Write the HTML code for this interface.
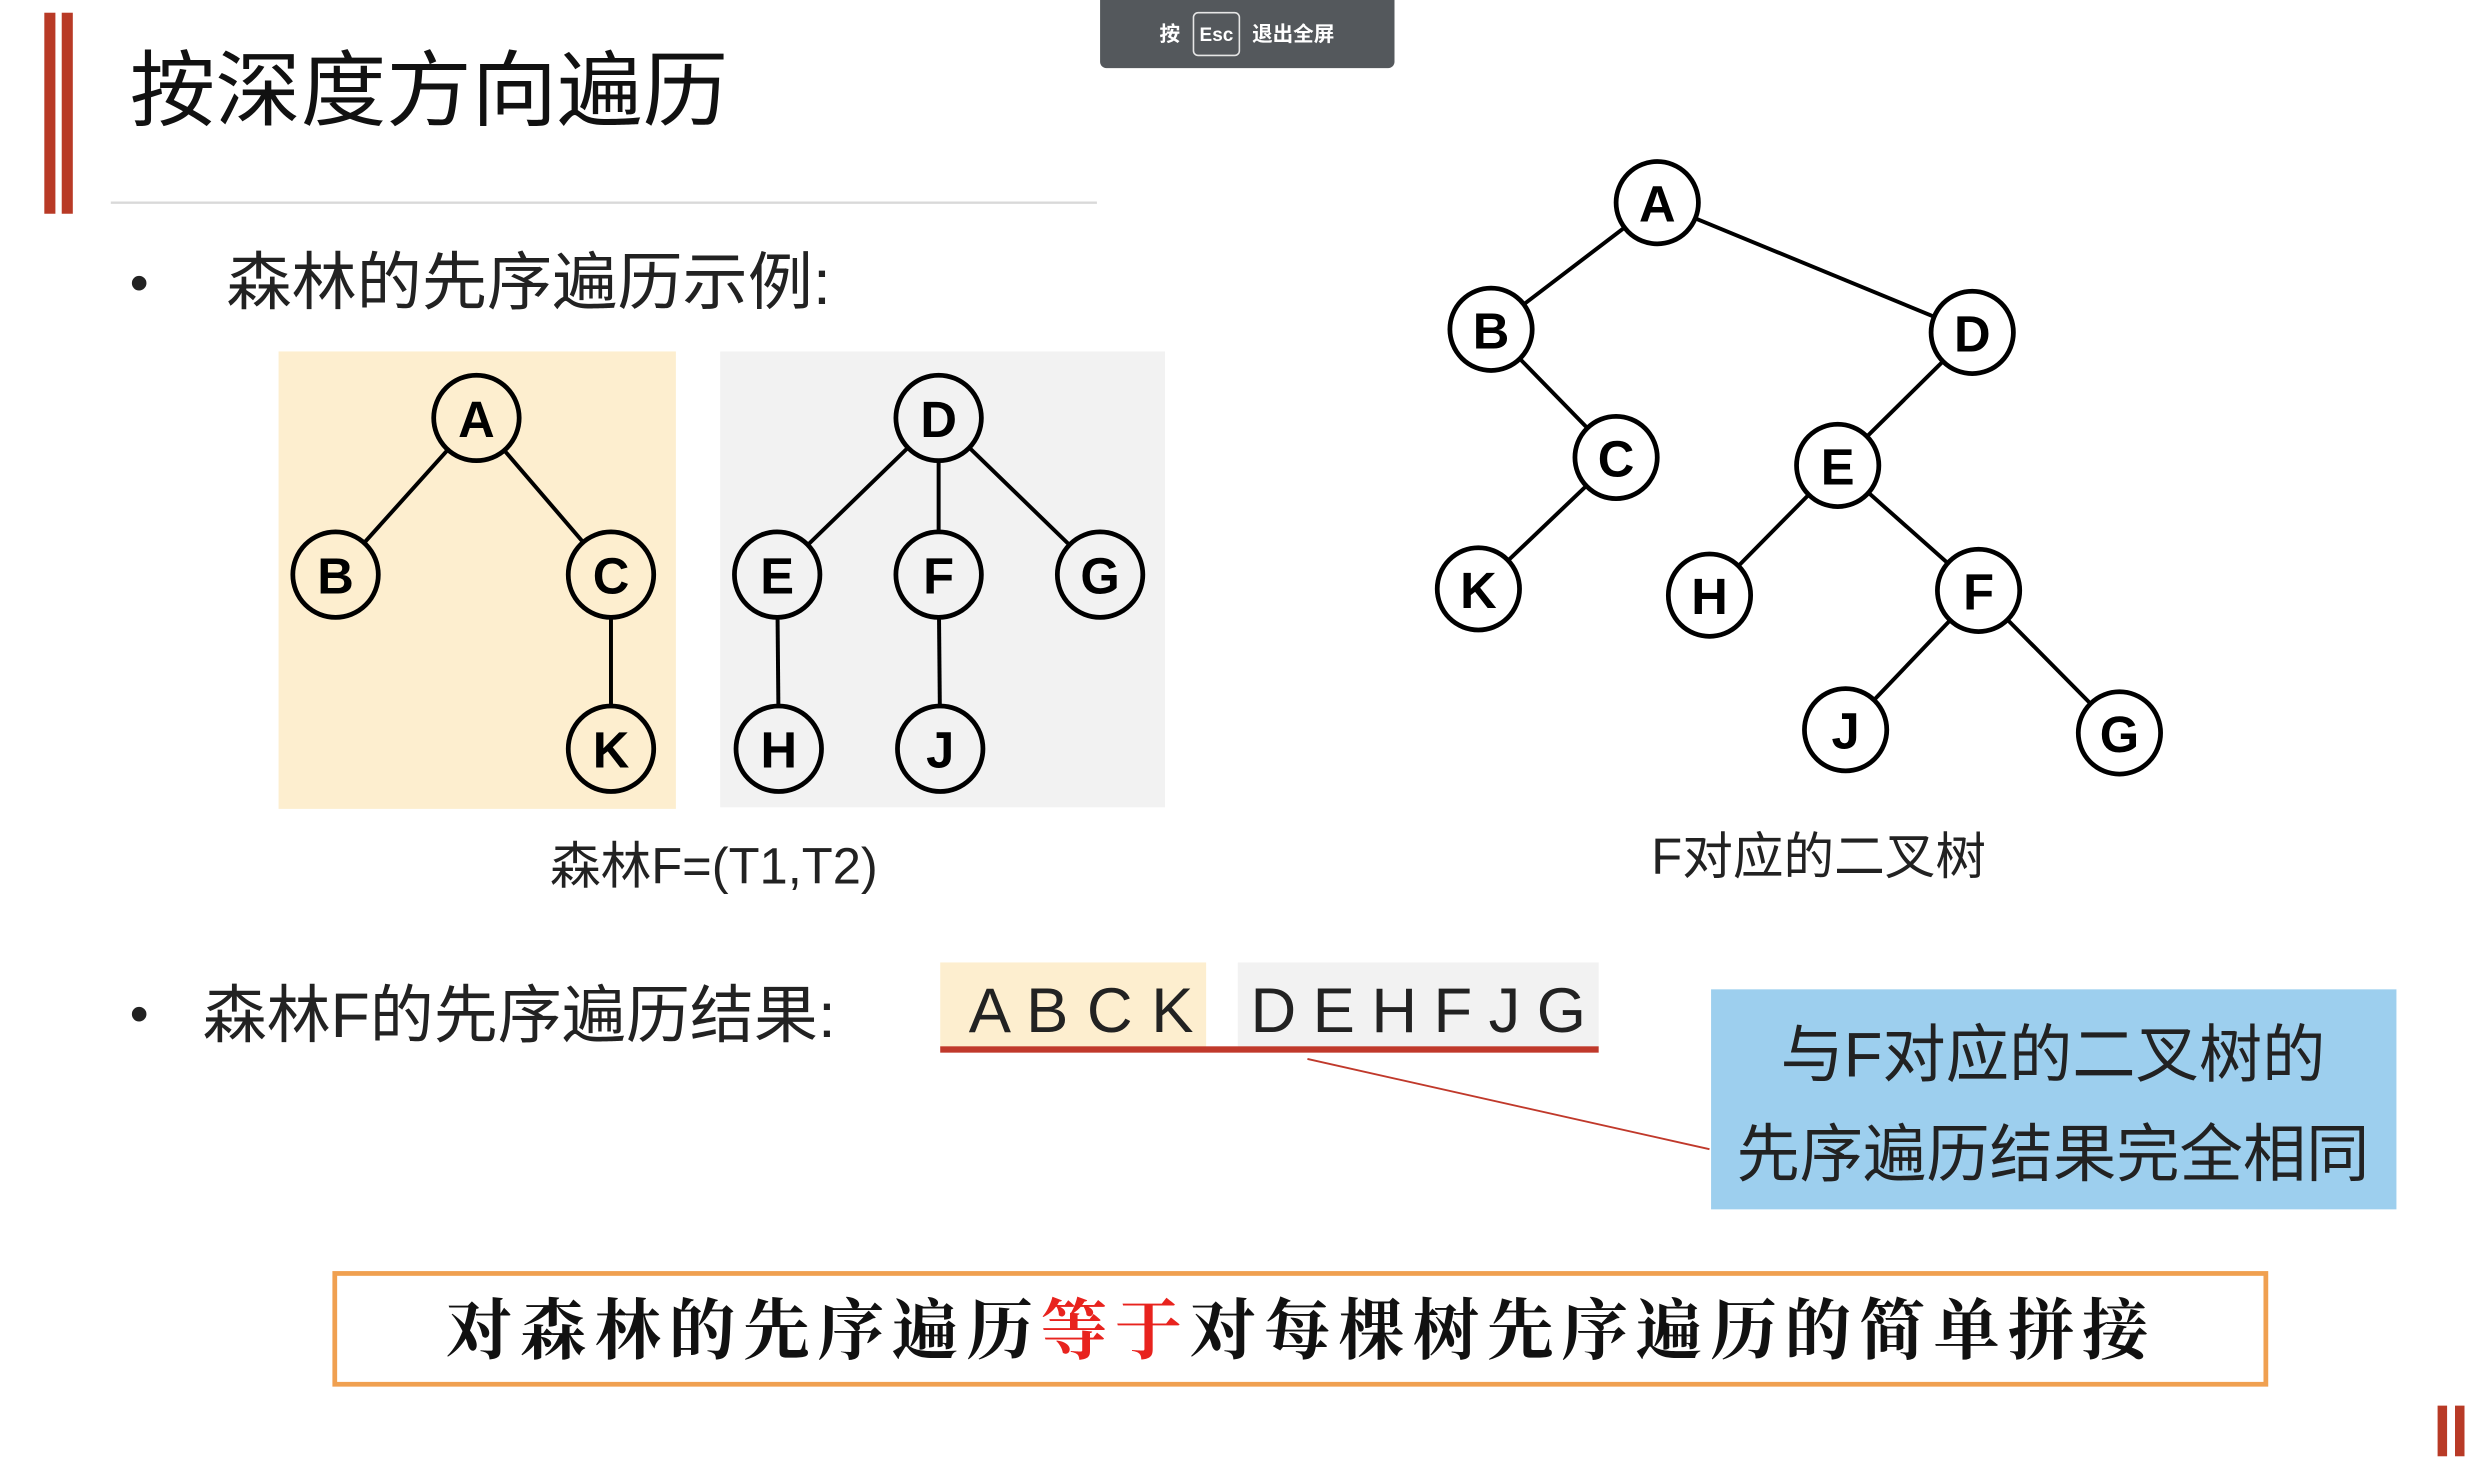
<!DOCTYPE html>
<html><head><meta charset="utf-8"><style>
html,body{margin:0;padding:0;background:#fff;}
svg{display:block;}
text{font-family:"Liberation Sans","Noto Sans CJK SC",sans-serif;}
.n{font-family:"Liberation Sans",sans-serif;font-weight:bold;font-size:32px;text-anchor:middle;}
</style></head><body>
<svg width="2474" height="1469" viewBox="0 0 1563 928" xmlns="http://www.w3.org/2000/svg">
<rect x="28" y="8" width="7" height="127" fill="#b83a26"/>
<rect x="39" y="8" width="7" height="127" fill="#b83a26"/>
<text x="82" y="75" font-size="52" fill="#111" textLength="378" lengthAdjust="spacingAndGlyphs">按深度方向遍历</text>
<line x1="70" y1="128" x2="693" y2="128" stroke="#d9d9d9" stroke-width="1.5"/>
<path d="M695 0 H881 V39 a4 4 0 0 1 -4 4 H699 a4 4 0 0 1 -4 -4 Z" fill="#54585c"/>
<text x="739" y="26" font-size="13" font-weight="bold" fill="#fff" text-anchor="middle">按</text>
<rect x="754" y="8" width="29" height="27" rx="3" fill="none" stroke="#e6e6e6" stroke-width="1"/>
<text x="768.5" y="26" font-size="12" font-weight="bold" fill="#fff" text-anchor="middle">Esc</text>
<text x="817" y="26" font-size="13" font-weight="bold" fill="#fff" text-anchor="middle">退出全屏</text>

<text x="82" y="190" font-size="34" fill="#222">•</text>
<text x="143" y="192" font-size="40" fill="#222" textLength="382" lengthAdjust="spacingAndGlyphs">森林的先序遍历示例:</text>

<rect x="176" y="222" width="251" height="289" fill="#fdeecf"/>
<rect x="455" y="222" width="281" height="288" fill="#f2f2f2"/>
<g stroke="#000" stroke-width="2.5">
<line x1="301" y1="264" x2="212" y2="363"/><line x1="301" y1="264" x2="386" y2="363"/><line x1="386" y1="363" x2="386" y2="473"/>
<line x1="593" y1="264" x2="491" y2="363"/><line x1="593" y1="264" x2="593" y2="363"/><line x1="593" y1="264" x2="695" y2="363"/>
<line x1="491" y1="363" x2="492" y2="473"/><line x1="593" y1="363" x2="594" y2="473"/>
<line x1="1047" y1="128" x2="942" y2="208"/><line x1="1047" y1="128" x2="1246" y2="210"/>
<line x1="942" y1="208" x2="1021" y2="289"/><line x1="1021" y1="289" x2="934" y2="372"/>
<line x1="1246" y1="210" x2="1161" y2="294"/><line x1="1161" y1="294" x2="1080" y2="376"/>
<line x1="1161" y1="294" x2="1250" y2="373"/><line x1="1250" y1="373" x2="1166" y2="461"/><line x1="1250" y1="373" x2="1339" y2="463"/>
</g>
<g stroke="#000" stroke-width="3">
<circle cx="301" cy="264" r="27" fill="#fdeecf"/><circle cx="212" cy="363" r="27" fill="#fdeecf"/>
<circle cx="386" cy="363" r="27" fill="#fdeecf"/><circle cx="386" cy="473" r="27" fill="#fdeecf"/>
<circle cx="593" cy="264" r="27" fill="#f2f2f2"/><circle cx="491" cy="363" r="27" fill="#f2f2f2"/>
<circle cx="593" cy="363" r="27" fill="#f2f2f2"/><circle cx="695" cy="363" r="27" fill="#f2f2f2"/>
<circle cx="492" cy="473" r="27" fill="#f2f2f2"/><circle cx="594" cy="473" r="27" fill="#f2f2f2"/>
<circle cx="1047" cy="128" r="26" fill="#fff"/><circle cx="942" cy="208" r="26" fill="#fff"/>
<circle cx="1246" cy="210" r="26" fill="#fff"/><circle cx="1021" cy="289" r="26" fill="#fff"/>
<circle cx="1161" cy="294" r="26" fill="#fff"/><circle cx="934" cy="372" r="26" fill="#fff"/>
<circle cx="1080" cy="376" r="26" fill="#fff"/><circle cx="1250" cy="373" r="26" fill="#fff"/>
<circle cx="1166" cy="461" r="26" fill="#fff"/><circle cx="1339" cy="463" r="26" fill="#fff"/>
</g>
<g>
<text class="n" x="301" y="276">A</text><text class="n" x="212" y="375">B</text><text class="n" x="386" y="375">C</text><text class="n" x="386" y="485">K</text>
<text class="n" x="593" y="276">D</text><text class="n" x="491" y="375">E</text><text class="n" x="593" y="375">F</text><text class="n" x="695" y="375">G</text>
<text class="n" x="492" y="485">H</text><text class="n" x="594" y="485">J</text>
<text class="n" x="1047" y="140">A</text><text class="n" x="942" y="220">B</text><text class="n" x="1246" y="222">D</text>
<text class="n" x="1021" y="301">C</text><text class="n" x="1161" y="306">E</text><text class="n" x="934" y="384">K</text>
<text class="n" x="1080" y="388">H</text><text class="n" x="1250" y="385">F</text><text class="n" x="1166" y="473">J</text><text class="n" x="1339" y="475">G</text>
</g>
<text x="451" y="558" font-size="32" fill="#222" text-anchor="middle">森林F=(T1,T2)</text>
<text x="1149" y="552" font-size="32" fill="#222" text-anchor="middle">F对应的二叉树</text>

<text x="82" y="652" font-size="34" fill="#222">•</text>
<text x="128" y="655" font-size="40" fill="#222" textLength="400" lengthAdjust="spacingAndGlyphs">森林F的先序遍历结果:</text>
<rect x="594" y="608" width="168" height="54" fill="#fdeecf"/>
<rect x="782" y="608" width="228" height="54" fill="#f2f2f2"/>
<text x="612" y="652" font-size="40" fill="#222" textLength="142" lengthAdjust="spacing">A B C K</text>
<text x="790" y="652" font-size="40" fill="#222" textLength="212" lengthAdjust="spacing">D E H F J G</text>
<rect x="594" y="661" width="416" height="4" fill="#c0392b"/>
<line x1="826" y1="669" x2="1080" y2="726" stroke="#c0392b" stroke-width="1.2"/>
<rect x="1081" y="625" width="433" height="139" fill="#9dcfee"/>
<text x="1297" y="680" font-size="40" fill="#222" text-anchor="middle">与F对应的二叉树的</text>
<text x="1297" y="743" font-size="40" fill="#222" text-anchor="middle">先序遍历结果完全相同</text>

<rect x="211.5" y="804.5" width="1220" height="70" fill="#fff" stroke="#f0a050" stroke-width="3"/>
<text x="822" y="855" font-size="42" font-weight="bold" fill="#111" text-anchor="middle" letter-spacing="5" style="font-family:'Noto Serif CJK SC',serif">对森林的先序遍历<tspan fill="#e8231e">等于</tspan>对每棵树先序遍历的简单拼接</text>

<rect x="1540" y="888" width="6" height="32" fill="#b83a26"/>
<rect x="1551" y="888" width="6" height="32" fill="#b83a26"/>
</svg>
</body></html>
